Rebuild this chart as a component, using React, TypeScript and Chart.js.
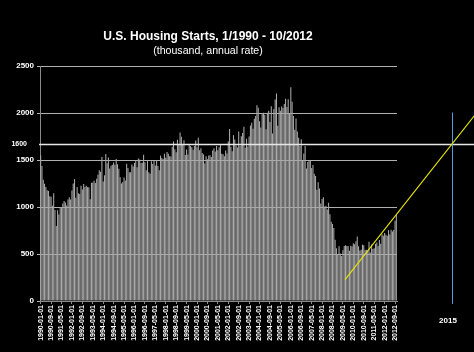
import React, { useEffect, useRef } from "react";
import { Chart, registerables } from "chart.js";

Chart.register(...registerables);

// Monthly housing starts (thousand, annual rate), Jan 1990 – Oct 2012
const y1990 = [1551, 1437, 1289, 1248, 1212, 1177, 1171, 1115, 1110, 1014, 1145, 969];
const y1991 = [798, 965, 921, 1001, 996, 1036, 1063, 1049, 1015, 1079, 1103, 1079];
const y1992 = [1176, 1250, 1297, 1099, 1214, 1145, 1139, 1226, 1186, 1244, 1214, 1227];
const y1993 = [1210, 1210, 1083, 1258, 1260, 1280, 1254, 1300, 1343, 1392, 1376, 1533];
const y1994 = [1272, 1337, 1564, 1465, 1526, 1409, 1439, 1450, 1474, 1450, 1511, 1455];
const y1995 = [1407, 1316, 1249, 1267, 1314, 1281, 1461, 1416, 1369, 1369, 1452, 1431];
const y1996 = [1467, 1491, 1424, 1516, 1504, 1467, 1472, 1557, 1475, 1392, 1489, 1370];
const y1997 = [1355, 1486, 1457, 1492, 1442, 1494, 1437, 1390, 1546, 1520, 1510, 1566];
const y1998 = [1525, 1584, 1567, 1540, 1536, 1641, 1698, 1614, 1582, 1715, 1660, 1792];
const y1999 = [1748, 1670, 1710, 1553, 1611, 1559, 1669, 1648, 1635, 1608, 1648, 1708];
const y2000 = [1636, 1737, 1604, 1626, 1575, 1559, 1463, 1541, 1507, 1549, 1551, 1532];
const y2001 = [1600, 1625, 1590, 1649, 1605, 1636, 1670, 1567, 1562, 1540, 1602, 1568];
const y2002 = [1698, 1829, 1642, 1592, 1764, 1717, 1655, 1633, 1804, 1648, 1753, 1788];
const y2003 = [1853, 1629, 1726, 1643, 1751, 1867, 1897, 1833, 1939, 1967, 2083, 2057];
const y2004 = [1911, 1846, 1998, 2003, 1981, 1828, 2002, 2024, 1905, 2072, 1782, 2042];
const y2005 = [2144, 2207, 1864, 2061, 2025, 2068, 2054, 2095, 2151, 2065, 2147, 1994];
const y2006 = [2273, 2119, 1969, 1821, 1942, 1802, 1737, 1650, 1720, 1491, 1570, 1649];
const y2007 = [1409, 1480, 1495, 1490, 1415, 1448, 1354, 1330, 1183, 1264, 1197, 1037];
const y2008 = [1084, 1103, 1005, 1013, 973, 1046, 923, 844, 820, 777, 652, 560];
const y2009 = [490, 582, 505, 478, 540, 585, 594, 586, 585, 534, 588, 581];
const y2010 = [614, 604, 636, 687, 583, 536, 546, 599, 594, 543, 545, 539];
const y2011 = [630, 517, 600, 554, 561, 608, 623, 585, 650, 610, 711, 694];
const y2012 = [723, 704, 695, 753, 708, 757, 740, 754, 854, 915];

const starts = [
  ...y1990, ...y1991, ...y1992, ...y1993, ...y1994, ...y1995, ...y1996, ...y1997,
  ...y1998, ...y1999, ...y2000, ...y2001, ...y2002, ...y2003, ...y2004, ...y2005,
  ...y2006, ...y2007, ...y2008, ...y2009, ...y2010, ...y2011, ...y2012,
];

const FIRST_YEAR = 1990;
const months: string[] = starts.map((_, i) => {
  const yr = FIRST_YEAR + Math.floor(i / 12);
  const m = (i % 12) + 1;
  return `${yr}-${m < 10 ? "0" + m : m}-01`;
});

const LABEL_EVERY = 8;
const yTicks = [0, 500, 1000, 1500, 2000, 2500];

// Annotations (x in month-index units, extrapolated past the data)
const refLevel = 1665; // the "1600" reference line as drawn
const refLabel = "1600";
const trendX = [233.6, 333];
const trendY = [228, 1975];
const markX = 315.7;
const markY = [-30, 2005];
const markLabel = "2015";

const TITLE = "U.S. Housing Starts, 1/1990 - 10/2012";
const SUBTITLE = "(thousand, annual rate)";

const overlay = {
  id: "overlay",
  afterDraw(chart: any) {
    const { ctx, scales, chartArea } = chart;
    const x = scales.x;
    const y = scales.y;
    ctx.save();

    // titles
    ctx.fillStyle = "#ffffff";
    ctx.textAlign = "center";
    ctx.textBaseline = "middle";
    ctx.font = "bold 12px 'Liberation Sans', Arial, sans-serif";
    ctx.fillText(TITLE, 208, 37);
    ctx.font = "10.6px 'Liberation Sans', Arial, sans-serif";
    ctx.fillText(SUBTITLE, 208, 51);

    // reference line
    const yr = Math.round(y.getPixelForValue(refLevel)) + 0.5;
    ctx.strokeStyle = "#e6e6e6";
    ctx.lineWidth = 1.5;
    ctx.beginPath();
    ctx.moveTo(chartArea.left - 1, yr);
    ctx.lineTo(chart.width, yr);
    ctx.stroke();
    ctx.font = "bold 7px 'Liberation Sans', Arial, sans-serif";
    ctx.textAlign = "right";
    ctx.fillStyle = "#ffffff";
    ctx.fillText(refLabel, 27, yr);

    // vertical marker
    const xm = Math.round(x.getPixelForValue(markX)) + 0.5;
    ctx.strokeStyle = "#5a9ae0";
    ctx.lineWidth = 1;
    ctx.beginPath();
    ctx.moveTo(xm, y.getPixelForValue(markY[1]));
    ctx.lineTo(xm, y.getPixelForValue(markY[0]));
    ctx.stroke();

    // trend line
    ctx.strokeStyle = "#e8e800";
    ctx.lineWidth = 1.1;
    ctx.beginPath();
    ctx.moveTo(x.getPixelForValue(trendX[0]), y.getPixelForValue(trendY[0]));
    ctx.lineTo(x.getPixelForValue(trendX[1]), y.getPixelForValue(trendY[1]));
    ctx.stroke();

    // marker label
    ctx.font = "bold 8px 'Liberation Sans', Arial, sans-serif";
    ctx.textAlign = "center";
    ctx.fillStyle = "#ffffff";
    ctx.fillText(markLabel, xm - 4.5, 321);
    ctx.restore();
  },
};

export default function App() {
  const ref = useRef<HTMLCanvasElement | null>(null);

  useEffect(() => {
    document.body.style.margin = "0";
    document.body.style.background = "#000";
    const canvas = ref.current;
    if (!canvas) return;
    const chart = new Chart(canvas, {
      type: "bar",
      data: {
        labels: months,
        datasets: [
          {
            data: starts,
            backgroundColor: "#a8a8a8",
            borderWidth: 0,
            categoryPercentage: 1,
            barPercentage: 0.82,
          },
        ],
      },
      options: {
        responsive: false,
        animation: false,
        devicePixelRatio: 1,
        layout: { padding: { top: 66, right: 77, left: 0, bottom: 0 } },
        plugins: {
          legend: { display: false },
          title: { display: false },
          tooltip: { enabled: false },
        },
        scales: {
          x: {
            offset: true,
            afterFit: (s: any) => {
              s.height = 51;
            },
            grid: {
              display: true,
              offset: false,
              drawOnChartArea: false,
              drawTicks: true,
              tickLength: 3,
              color: "#8a8a8a",
            },
            border: { display: true, color: "#8a8a8a" },
            ticks: {
              autoSkip: false,
              minRotation: 90,
              maxRotation: 90,
              padding: 1,
              color: "#ffffff",
              font: { size: 7, weight: "bold", family: "'Liberation Sans', Arial, sans-serif" },
              callback: (_v: any, i: number) => (i % LABEL_EVERY === 0 ? months[i] : null),
            },
          },
          y: {
            min: 0,
            max: 2500,
            z: 1,
            afterFit: (s: any) => {
              s.width = 40;
            },
            afterBuildTicks: (s: any) => {
              s.ticks = yTicks.map((v) => ({ value: v }));
            },
            grid: {
              color: "#b0b0b0",
              lineWidth: 1,
              tickLength: 3,
              drawTicks: true,
            },
            border: { display: true, color: "#8a8a8a" },
            ticks: {
              padding: 3,
              color: "#ffffff",
              font: { size: 8, weight: "bold", family: "'Liberation Sans', Arial, sans-serif" },
              callback: (v: any) => String(v),
            },
          },
        },
      },
      plugins: [overlay],
    });
    return () => chart.destroy();
  }, []);

  return (
    <div style={{ width: 474, height: 352, background: "#000" }}>
      <canvas ref={ref} width={474} height={352} style={{ display: "block" }} />
    </div>
  );
}
